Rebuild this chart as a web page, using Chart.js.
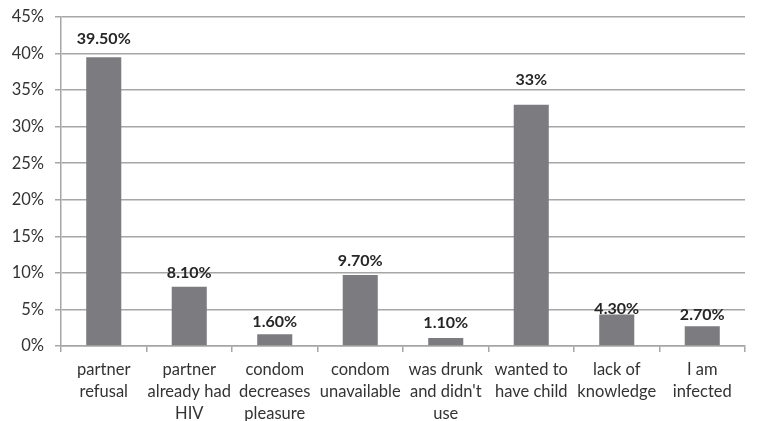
<!DOCTYPE html>
<html>
<head>
<meta charset="utf-8">
<script src="https://cdn.jsdelivr.net/npm/chart.js@4/dist/chart.umd.min.js"></script>
<style>
html,body{margin:0;padding:0;background:#fff;}
#wrap{width:757px;height:421px;}
</style>
</head>
<body>
<div id="wrap"><canvas id="c" width="757" height="421"></canvas></div>
<script>
const categories = [
  ["partner","refusal"],
  ["partner","already had","HIV"],
  ["condom","decreases","pleasure"],
  ["condom","unavailable"],
  ["was drunk","and didn't","use"],
  ["wanted to","have child"],
  ["lack of","knowledge"],
  ["I am","infected"]
];
const values = [39.5, 8.1, 1.6, 9.7, 1.1, 33, 4.3, 2.7];
const valueLabels = ["39.50%","8.10%","1.60%","9.70%","1.10%","33%","4.30%","2.70%"];
const yTicks = [0,5,10,15,20,25,30,35,40,45];

const labelOffsets = [18, 14, 12, 14, 15, 25, 6, 11];

const labelPlugin = {
  id: 'valLabels',
  afterDatasetsDraw(chart) {
    const ctx = chart.ctx;
    const meta = chart.getDatasetMeta(0);
    ctx.save();
    ctx.font = 'bold 16px Lato';
    ctx.fillStyle = '#262626';
    ctx.textAlign = 'center';
    ctx.textBaseline = 'middle';
    meta.data.forEach((bar, i) => {
      ctx.fillText(valueLabels[i], bar.x, bar.y - labelOffsets[i]);
    });
    ctx.restore();
  }
};

new Chart(document.getElementById('c'), {
  type: 'bar',
  data: {
    labels: categories,
    datasets: [{
      data: values,
      backgroundColor: '#7c7c80',
      borderWidth: 0,
      barPercentage: 0.41,
      categoryPercentage: 1
    }]
  },
  options: {
    responsive: false,
    animation: false,
    events: [],
    layout: { padding: { top: 17, right: 12, left: 0, bottom: 0 } },
    plugins: { legend: { display: false }, tooltip: { enabled: false } },
    scales: {
      x: {
        offset: true,
        grid: { display: true, drawOnChartArea: false, offset: true, color: '#a6a6a6', tickLength: 6, lineWidth: 1.5 },
        border: { display: true, color: '#a6a6a6', width: 1.5 },
        ticks: { font: { family: 'Lato', size: 16.5, lineHeight: 1.33 }, color: '#333333', padding: 7, maxRotation: 0, autoSkip: false },
        afterFit(scale) { scale.height = 75; }
      },
      y: {
        min: 0, max: 45,
        grid: { color: '#a6a6a6', tickLength: 6, lineWidth: 1.5 },
        border: { display: true, color: '#a6a6a6', width: 1.5 },
        afterBuildTicks(scale) { scale.ticks = yTicks.map(v => ({ value: v })); },
        ticks: { font: { family: 'Lato', size: 16.5, lineHeight: 1 }, color: '#333333', padding: 11, callback: v => v + '%' },
        afterFit(scale) { scale.width = 61; scale.paddingTop = 0; scale.paddingBottom = 0; }
      }
    }
  },
  plugins: [labelPlugin]
});
</script>
</body>
</html>
